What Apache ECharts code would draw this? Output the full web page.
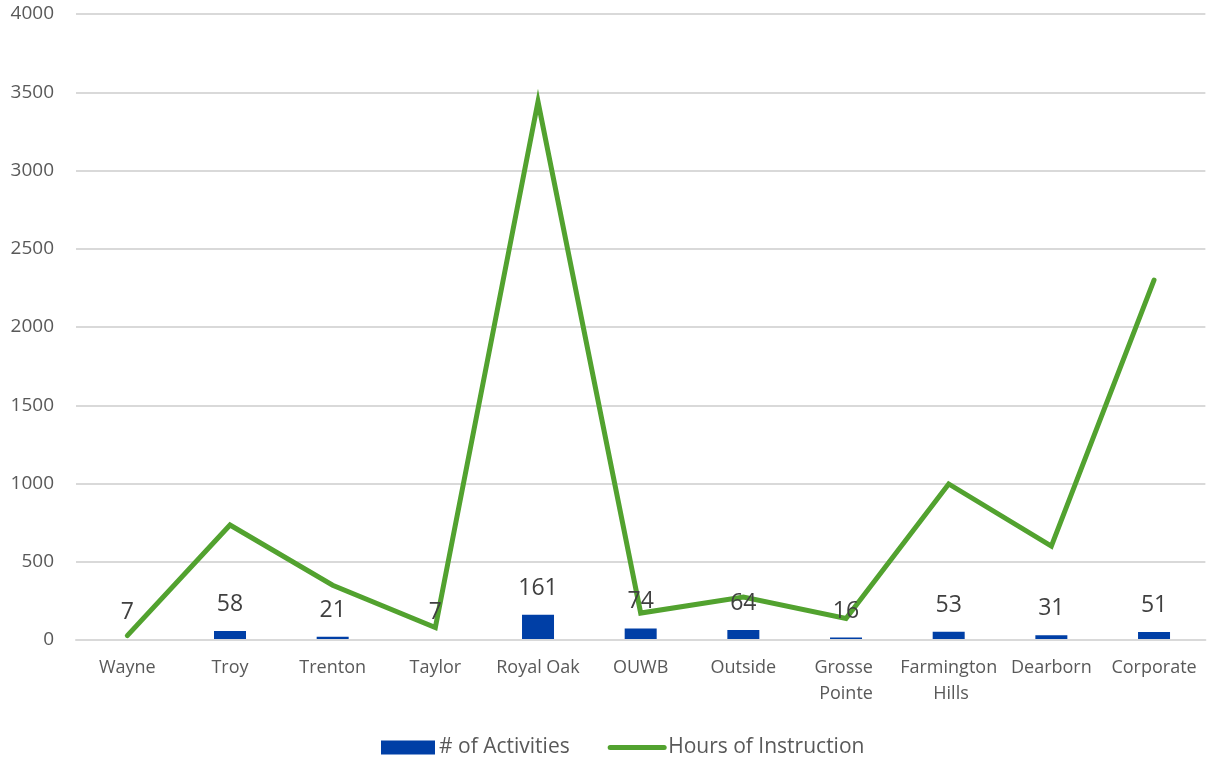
<!DOCTYPE html>
<html>
<head>
<meta charset="utf-8">
<script src="https://cdn.jsdelivr.net/npm/echarts@6/dist/echarts.min.js"></script>
<style>
  html, body { margin: 0; padding: 0; background: #ffffff; }
  #chart { width: 1207px; height: 759px; }
</style>
</head>
<body>
<div id="chart"></div>
<script>
// Campus / site names along the category axis
const categories = ['Wayne', 'Troy', 'Trenton', 'Taylor', 'Royal Oak', 'OUWB', 'Outside', 'Grosse Pointe', 'Farmington Hills', 'Dearborn', 'Corporate'];
// Number of activities per site (bars, labelled)
const activities = [7, 58, 21, 7, 161, 74, 64, 16, 53, 31, 51];
// Hours of instruction per site (line)
const hours = [28, 735, 350, 80, 3440, 172, 275, 138, 997, 600, 2300];

const textFont = '"Open Sans", "Liberation Sans", sans-serif';

const chart = echarts.init(document.getElementById('chart'), null, { renderer: 'canvas' });
chart.setOption({
  animation: false,
  backgroundColor: '#ffffff',
  textStyle: { fontFamily: textFont },
  grid: { left: 76, right: 1, top: 14, bottom: 119, containLabel: false },
  legend: {
    bottom: -4,
    left: 376,
    itemGap: 38,
    itemWidth: 54,
    itemHeight: 14,
    textStyle: { fontSize: 21, color: '#595959', fontFamily: textFont, padding: [0, 0, 0, -1] },
    data: [
      { name: '# of Activities', icon: 'rect' },
      { name: 'Hours of Instruction', itemStyle: { opacity: 0 }, lineStyle: { width: 5, cap: 'round' } }
    ]
  },
  xAxis: {
    type: 'category',
    data: categories,
    z: 3,
    axisLine: { show: true, lineStyle: { color: '#d9d9d9', width: 2 } },
    axisTick: { show: false },
    axisLabel: {
      color: '#595959',
      fontSize: 18,
      fontFamily: textFont,
      margin: 15,
      lineHeight: 26,
      width: 100,
      overflow: 'break',
      interval: 0
    }
  },
  yAxis: {
    type: 'value',
    min: 0,
    max: 4000,
    interval: 500,
    axisLine: { show: false },
    axisTick: { show: false },
    splitLine: { lineStyle: { color: '#d9d9d9', width: 2 } },
    axisLabel: { color: '#595959', fontSize: 19, fontFamily: textFont, margin: 22, formatter: v => String(v) }
  },
  series: [
    {
      name: '# of Activities',
      type: 'bar',
      data: activities,
      barWidth: 32,
      itemStyle: { color: '#003fa6' },
      label: {
        show: true,
        position: 'top',
        distance: 15,
        fontSize: 23,
        color: '#404040',
        fontFamily: textFont
      },
      z: 2
    },
    {
      name: 'Hours of Instruction',
      type: 'line',
      data: hours,
      symbol: 'none',
      showSymbol: false,
      lineStyle: { color: '#52a22f', width: 5, cap: 'round', join: 'miter' },
      itemStyle: { color: '#52a22f' },
      z: 1
    }
  ]
});
</script>
</body>
</html>
